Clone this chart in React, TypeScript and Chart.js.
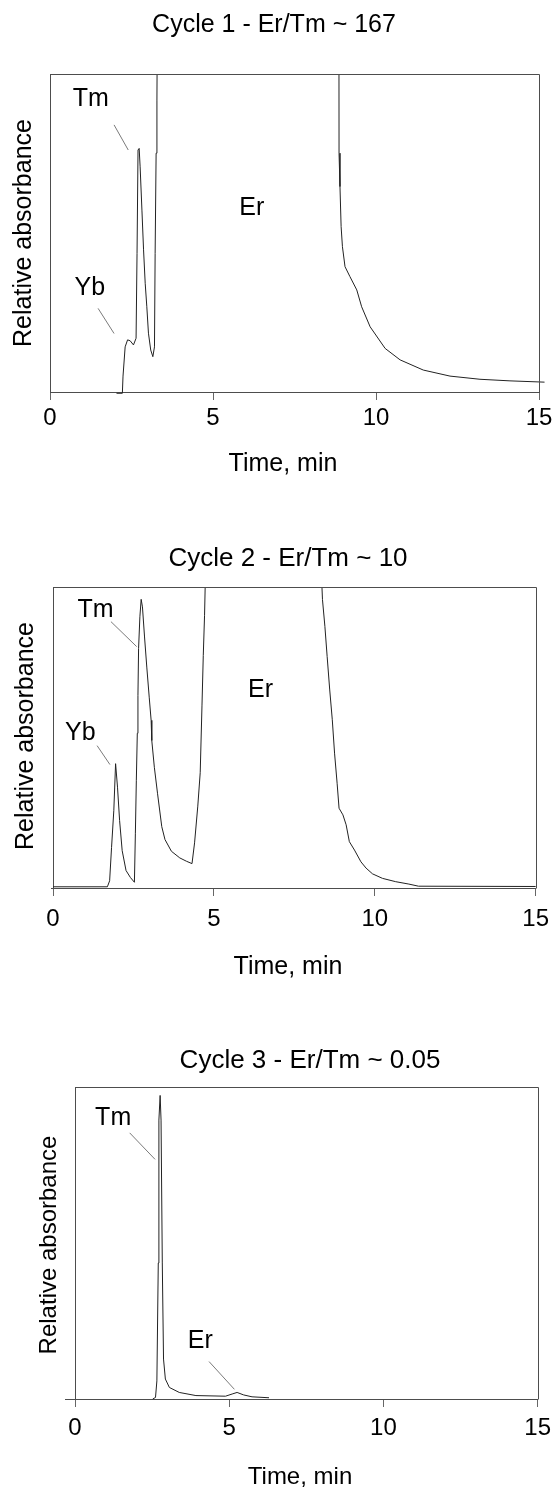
import React, { useEffect, useRef } from "react";
import { Chart, registerables } from "chart.js";

Chart.register(...registerables);

const FONT = "'Liberation Sans', Arial, Helvetica, sans-serif";
const PAGE_W = 558;

// ---------- shared axis ticks ----------
const xTickValues = [0, 5, 10, 15];
const xTitle = "Time, min";
const yTitle = "Relative absorbance";

// ---------- Cycle 1 ----------
const cycle1Title = "Cycle 1 - Er/Tm ~ 167";
const cycle1Time = [2.04, 2.22, 2.24, 2.305, 2.38, 2.46, 2.56, 2.64, 2.67, 2.7, 2.735, 2.765, 2.82, 2.87, 2.92, 2.97, 3.02, 3.09, 3.155, 3.205, 3.225, 3.255, 3.28, 3.3, 6.0, 8.862, 8.866, 8.895, 8.93, 8.97, 9.05, 9.2, 9.41, 9.56, 9.82, 10.28, 10.74, 11.45, 12.27, 13.19, 14.11, 15.17];
const cycle1Abs = [-0.004, -0.004, 0.05, 0.142, 0.164, 0.161, 0.148, 0.169, 0.436, 0.761, 0.766, 0.708, 0.572, 0.447, 0.342, 0.268, 0.185, 0.132, 0.111, 0.142, 0.436, 0.751, 0.918, 1.3, 3.0, 1.3, 0.751, 0.646, 0.52, 0.457, 0.394, 0.363, 0.321, 0.268, 0.205, 0.137, 0.101, 0.069, 0.05, 0.04, 0.035, 0.031];
const cycle1PeakNames = ["Tm", "Yb", "Er"];
const cycle1PeakX = [1.254, 1.223, 6.19];
const cycle1PeakY = [0.92, 0.326, 0.578];
const cycle1Leaders = [
  [1.965, 0.84, 2.4, 0.761],
  [1.475, 0.263, 1.965, 0.184],
];

// ---------- Cycle 2 ----------
const cycle2Title = "Cycle 2 - Er/Tm ~ 10";
const cycle2Time = [0, 1.69, 1.76, 1.82, 1.89, 1.945, 2.005, 2.07, 2.15, 2.27, 2.405, 2.53, 2.56, 2.59, 2.62, 2.64, 2.66, 2.7, 2.74, 2.78, 2.845, 2.915, 2.99, 3.05, 3.07, 3.15, 3.25, 3.38, 3.48, 3.68, 3.94, 4.145, 4.32, 4.4, 4.5, 4.575, 4.63, 4.67, 4.71, 4.75, 6.5, 8.32, 8.375, 8.45, 8.52, 8.6, 8.68, 8.75, 8.83, 8.89, 9.01, 9.11, 9.21, 9.37, 9.57, 9.73, 9.93, 10.24, 10.65, 11.06, 11.36, 15];
const cycle2Abs = [0.004, 0.004, 0.024, 0.135, 0.258, 0.413, 0.335, 0.224, 0.124, 0.058, 0.035, 0.019, 0.18, 0.358, 0.514, 0.64, 0.796, 0.901, 0.959, 0.934, 0.834, 0.734, 0.634, 0.557, 0.49, 0.401, 0.313, 0.204, 0.161, 0.122, 0.1, 0.089, 0.081, 0.15, 0.272, 0.383, 0.605, 0.772, 0.906, 1.1, 3.0, 1.1, 0.958, 0.869, 0.769, 0.658, 0.559, 0.448, 0.348, 0.265, 0.243, 0.21, 0.154, 0.126, 0.087, 0.066, 0.047, 0.032, 0.021, 0.013, 0.006, 0.005];
const cycle2PeakNames = ["Tm", "Yb", "Er"];
const cycle2PeakX = [1.32, 0.85, 6.45];
const cycle2PeakY = [0.924, 0.515, 0.657];
const cycle2Leaders = [
  [1.8, 0.885, 2.6, 0.802],
  [1.37, 0.473, 1.77, 0.41],
];

// ---------- Cycle 3 ----------
const cycle3Title = "Cycle 3 - Er/Tm ~ 0.05";
const cycle3Time = [2.52, 2.61, 2.655, 2.7, 2.72, 2.76, 2.79, 2.83, 2.87, 2.93, 3.06, 3.38, 3.92, 4.88, 5.095, 5.255, 5.47, 5.74, 6.29];
const cycle3Abs = [0, 0.005, 0.058, 0.436, 0.894, 0.973, 0.894, 0.436, 0.128, 0.064, 0.037, 0.021, 0.011, 0.009, 0.016, 0.021, 0.013, 0.007, 0.004];
const cycle3PeakNames = ["Tm", "Er"];
const cycle3PeakX = [1.237, 4.06];
const cycle3PeakY = [0.899, 0.184];
const cycle3Leaders = [
  [1.773, 0.853, 2.596, 0.768],
  [4.346, 0.12, 5.168, 0.031],
];

type Layout = {
  offset: number; height: number;
  L: number; R: number; T: number; B: number;
  tickPad: number; axisExt: number;
  titleX: number; titleY: number; titleSize: number;
  yTitleX: number; yTitleY: number; yTitleSize: number;
  xTitleX: number; xTitleY: number; xTitleSize: number;
};

type Panel = {
  title: string; time: number[]; abs: number[];
  names: string[]; px: number[]; py: number[]; leaders: number[][];
  layout: Layout;
};

const panels: Panel[] = [
  {
    title: cycle1Title, time: cycle1Time, abs: cycle1Abs,
    names: cycle1PeakNames, px: cycle1PeakX, py: cycle1PeakY, leaders: cycle1Leaders,
    layout: { offset: 0, height: 480, L: 50, R: 539, T: 74, B: 392, tickPad: 4, axisExt: 50,
      titleX: 274, titleY: 25, titleSize: 25, yTitleX: 24, yTitleY: 233, yTitleSize: 25,
      xTitleX: 283, xTitleY: 464, xTitleSize: 25 },
  },
  {
    title: cycle2Title, time: cycle2Time, abs: cycle2Abs,
    names: cycle2PeakNames, px: cycle2PeakX, py: cycle2PeakY, leaders: cycle2Leaders,
    layout: { offset: 480, height: 510, L: 53, R: 542, T: 107, B: 408, tickPad: 9, axisExt: 51,
      titleX: 288, titleY: 79, titleSize: 26, yTitleX: 26, yTitleY: 256, yTitleSize: 25,
      xTitleX: 288, xTitleY: 487, xTitleSize: 25 },
  },
  {
    title: cycle3Title, time: cycle3Time, abs: cycle3Abs,
    names: cycle3PeakNames, px: cycle3PeakX, py: cycle3PeakY, leaders: cycle3Leaders,
    layout: { offset: 990, height: 498, L: 75, R: 542, T: 97, B: 409, tickPad: 7, axisExt: 65,
      titleX: 310, titleY: 71, titleSize: 26, yTitleX: 49, yTitleY: 255, yTitleSize: 24,
      xTitleX: 300, xTitleY: 487, xTitleSize: 24 },
  },
];

function makeOverlay(p: Panel) {
  return {
    id: "overlay",
    afterDraw(chart: any) {
      const { ctx, chartArea } = chart;
      const xs = chart.scales.x;
      const ys = chart.scales.y;
      const lay = p.layout;
      ctx.save();
      // box: top and right edges, axis extension
      ctx.strokeStyle = "#4d4d4d";
      ctx.lineWidth = 1;
      ctx.beginPath();
      const top = Math.round(chartArea.top) + 0.5;
      const right = Math.round(chartArea.right) + 0.5;
      const bottom = Math.round(chartArea.bottom) + 0.5;
      ctx.moveTo(Math.round(chartArea.left), top);
      ctx.lineTo(right, top);
      ctx.lineTo(right, bottom);
      if (lay.axisExt < chartArea.left) {
        ctx.moveTo(lay.axisExt, bottom);
        ctx.lineTo(chartArea.left, bottom);
      }
      ctx.stroke();

      // leader lines
      ctx.strokeStyle = "#7a7a7a";
      ctx.beginPath();
      p.leaders.forEach((l) => {
        ctx.moveTo(xs.getPixelForValue(l[0]), ys.getPixelForValue(l[1]));
        ctx.lineTo(xs.getPixelForValue(l[2]), ys.getPixelForValue(l[3]));
      });
      ctx.stroke();

      ctx.fillStyle = "#000";
      ctx.textAlign = "center";
      ctx.textBaseline = "middle";
      // peak labels
      ctx.font = `25px ${FONT}`;
      p.names.forEach((n, i) => {
        ctx.fillText(n, xs.getPixelForValue(p.px[i]), ys.getPixelForValue(p.py[i]));
      });
      // chart title
      ctx.font = `${lay.titleSize}px ${FONT}`;
      ctx.fillText(p.title, lay.titleX, lay.titleY);
      // x title
      ctx.font = `${lay.xTitleSize}px ${FONT}`;
      ctx.fillText(xTitle, lay.xTitleX, lay.xTitleY);
      // y title
      ctx.translate(lay.yTitleX, lay.yTitleY);
      ctx.rotate(-Math.PI / 2);
      ctx.font = `${lay.yTitleSize}px ${FONT}`;
      ctx.fillText(yTitle, 0, 0);
      ctx.restore();
    },
  };
}

function PanelChart({ panel }: { panel: Panel }) {
  const ref = useRef<HTMLCanvasElement | null>(null);
  useEffect(() => {
    const canvas = ref.current;
    if (!canvas) return;
    const lay = panel.layout;
    const chart = new Chart(canvas, {
      type: "line",
      data: {
        datasets: [
          {
            data: panel.time.map((t, i) => ({ x: t, y: panel.abs[i] })),
            borderColor: "#222",
            borderWidth: 1,
            pointRadius: 0,
            tension: 0,
            fill: false,
            clip: { left: 6, right: 8, top: 0, bottom: 4 },
          } as any,
        ],
      },
      options: {
        animation: false,
        responsive: false,
        maintainAspectRatio: false,
        devicePixelRatio: 1,
        events: [],
        layout: { padding: { top: lay.T, right: PAGE_W - lay.R, left: 0, bottom: 0 } },
        plugins: {
          legend: { display: false },
          tooltip: { enabled: false },
          title: { display: false },
        },
        scales: {
          x: {
            type: "linear",
            min: 0,
            max: 15,
            afterBuildTicks: (s: any) => {
              s.ticks = xTickValues.map((v) => ({ value: v }));
            },
            afterFit: (s: any) => {
              s.height = lay.height - lay.B;
            },
            ticks: {
              color: "#000",
              font: { family: FONT, size: 24 },
              padding: lay.tickPad,
              maxRotation: 0,
              autoSkip: false,
            },
            grid: {
              display: true,
              drawOnChartArea: false,
              drawTicks: true,
              tickLength: 8,
              color: "#666",
              lineWidth: 1,
            },
            border: { display: true, color: "#4d4d4d", width: 1 },
          },
          y: {
            type: "linear",
            min: 0,
            max: 1,
            afterFit: (s: any) => {
              s.width = lay.L;
            },
            ticks: { display: false },
            grid: { display: false },
            border: { display: true, color: "#4d4d4d", width: 1 },
          },
        },
      } as any,
      plugins: [makeOverlay(panel)],
    });
    return () => chart.destroy();
  }, [panel]);
  const lay = panel.layout;
  return (
    <div style={{ position: "absolute", left: 0, top: lay.offset, width: PAGE_W, height: lay.height }}>
      <canvas ref={ref} width={PAGE_W} height={lay.height} style={{ display: "block", width: PAGE_W, height: lay.height }} />
    </div>
  );
}

export default function App() {
  return (
    <div style={{ position: "absolute", left: 0, top: 0, width: PAGE_W, height: 1488, background: "#fff" }}>
      {panels.map((p, i) => (
        <PanelChart key={i} panel={p} />
      ))}
    </div>
  );
}
